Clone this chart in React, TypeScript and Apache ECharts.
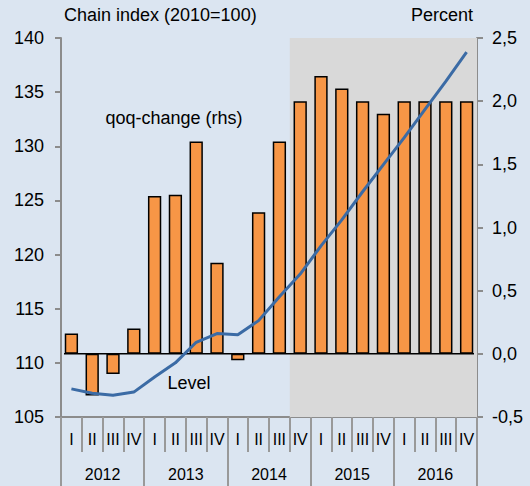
import React, { useEffect, useRef } from "react";
import * as echarts from "echarts";

const years = ["2012", "2013", "2014", "2015", "2016"];
const quarters = ["I", "II", "III", "IV"];
const categories = years.flatMap((y) => quarters.map((q) => `${y} ${q}`));

// qoq-change, percent (right axis)
const qoqChange = [0.16, -0.33, -0.16, 0.2, 1.25, 1.26, 1.68, 0.72, -0.05, 1.12, 1.68, 2.0, 2.2, 2.1, 2.0, 1.9, 2.0, 2.0, 2.0, 2.0];
// Level, chain index 2010=100 (left axis)
const level = [107.6, 107.2, 107.0, 107.3, 108.7, 110.0, 111.9, 112.7, 112.6, 113.9, 116.1, 118.2, 120.8, 123.2, 125.8, 128.3, 130.8, 133.4, 136.0, 138.7];

// shaded forecast period: first and last category index
const shadeRange = [11, 19];

const leftTicks = { min: 105, max: 140, interval: 5 };
const rightTicks = { min: -0.5, max: 2.5, interval: 0.5 };

const FONT = '"Liberation Sans", Arial, sans-serif';
const BG = "#dbe5f1";
const AXIS = "#8c8c8c";
const BAR_W = 13.3;

export default function App() {
  const ref = useRef<HTMLDivElement>(null);
  useEffect(() => {
    document.body.style.margin = "0";
    document.body.style.background = BG;
    const chart = echarts.init(ref.current!, null, { renderer: "svg" });
    const axisLineStyle = { color: AXIS, width: 2 };
    chart.setOption({
      animation: false,
      backgroundColor: BG,
      textStyle: { fontFamily: FONT },
      grid: { left: 61, right: 53, top: 38, bottom: 69, containLabel: false },
      xAxis: [
        {
          type: "category",
          data: categories,
          position: "bottom",
          axisLine: { show: true, onZero: false, lineStyle: axisLineStyle },
          axisTick: { show: true, interval: 0, length: 35, lineStyle: { color: "#999999", width: 2 } },
          axisLabel: {
            interval: 0,
            margin: 14,
            fontSize: 16,
            color: "#000",
            fontFamily: FONT,
            formatter: (v: string) => v.split(" ")[1],
          },
          splitLine: { show: false },
        },
        {
          type: "category",
          data: years,
          position: "bottom",
          axisLine: { show: false, onZero: false },
          axisTick: { show: true, interval: 0, length: 69, lineStyle: { color: "#999999", width: 2 } },
          axisLabel: { interval: 0, margin: 49, fontSize: 16, color: "#000", fontFamily: FONT },
          splitLine: { show: false },
        },
      ],
      yAxis: [
        {
          type: "value",
          position: "left",
          ...leftTicks,
          axisLine: { show: true, onZero: false, lineStyle: axisLineStyle },
          axisTick: { show: true, length: 6, lineStyle: axisLineStyle },
          splitLine: { show: false },
          axisLabel: { margin: 17, fontSize: 18, color: "#000", fontFamily: FONT },
        },
        {
          type: "value",
          position: "right",
          ...rightTicks,
          axisLine: { show: true, onZero: false, lineStyle: axisLineStyle },
          axisTick: { show: true, length: 6, lineStyle: axisLineStyle },
          splitLine: { show: false },
          axisLabel: {
            margin: 15,
            fontSize: 18,
            color: "#000",
            fontFamily: FONT,
            formatter: (v: number) => v.toFixed(1).replace(".", ","),
          },
        },
      ],
      series: [
        {
          type: "custom",
          name: "shade",
          xAxisIndex: 0,
          yAxisIndex: 0,
          z: 1,
          silent: true,
          data: [shadeRange],
          renderItem: (params: any, api: any) => {
            const cs = params.coordSys;
            const w = api.size([1, 0])[0];
            const x0 = api.coord([api.value(0), leftTicks.min])[0] - w / 2;
            const x1 = Math.min(api.coord([api.value(1), leftTicks.min])[0] + w / 2, cs.x + cs.width);
            return {
              type: "rect",
              shape: { x: x0, y: cs.y, width: x1 - x0, height: cs.height },
              style: { fill: "#d9d9d9" },
            };
          },
        },
        {
          type: "bar",
          name: "qoq-change (rhs)",
          xAxisIndex: 0,
          yAxisIndex: 1,
          z: 3,
          barWidth: BAR_W,
          data: qoqChange,
          itemStyle: { color: "#f79646", borderColor: "#000", borderWidth: 1.5 },
        },
        {
          type: "custom",
          name: "zero",
          xAxisIndex: 0,
          yAxisIndex: 1,
          z: 4,
          silent: true,
          data: [[0, qoqChange.length - 1]],
          renderItem: (params: any, api: any) => {
            const a = api.coord([api.value(0), 0]);
            const b = api.coord([api.value(1), 0]);
            return {
              type: "line",
              shape: { x1: a[0] - BAR_W / 2 - 0.75, y1: a[1], x2: b[0] + BAR_W / 2 + 0.75, y2: b[1] },
              style: { stroke: "#000", lineWidth: 1.5 },
            };
          },
        },
        {
          type: "line",
          name: "Level",
          xAxisIndex: 0,
          yAxisIndex: 0,
          z: 5,
          data: level,
          symbol: "none",
          lineStyle: { color: "#3b6ba5", width: 3 },
        },
      ],
      graphic: [
        {
          type: "text",
          x: 64,
          y: 15,
          style: { text: "Chain index (2010=100)", font: `18px ${FONT}`, fill: "#000", align: "left", verticalAlign: "middle", textAlign: "left", textVerticalAlign: "middle" },
        },
        {
          type: "text",
          x: 473,
          y: 15,
          style: { text: "Percent", font: `18px ${FONT}`, fill: "#000", align: "right", verticalAlign: "middle", textAlign: "right", textVerticalAlign: "middle" },
        },
        {
          type: "text",
          x: 174,
          y: 118,
          style: { text: "qoq-change (rhs)", font: `18px ${FONT}`, fill: "#000", align: "center", verticalAlign: "middle", textAlign: "center", textVerticalAlign: "middle" },
        },
        {
          type: "text",
          x: 189,
          y: 383,
          style: { text: "Level", font: `18px ${FONT}`, fill: "#000", align: "center", verticalAlign: "middle", textAlign: "center", textVerticalAlign: "middle" },
        },
      ],
    });
    return () => chart.dispose();
  }, []);
  return <div ref={ref} style={{ width: 530, height: 486 }} />;
}
